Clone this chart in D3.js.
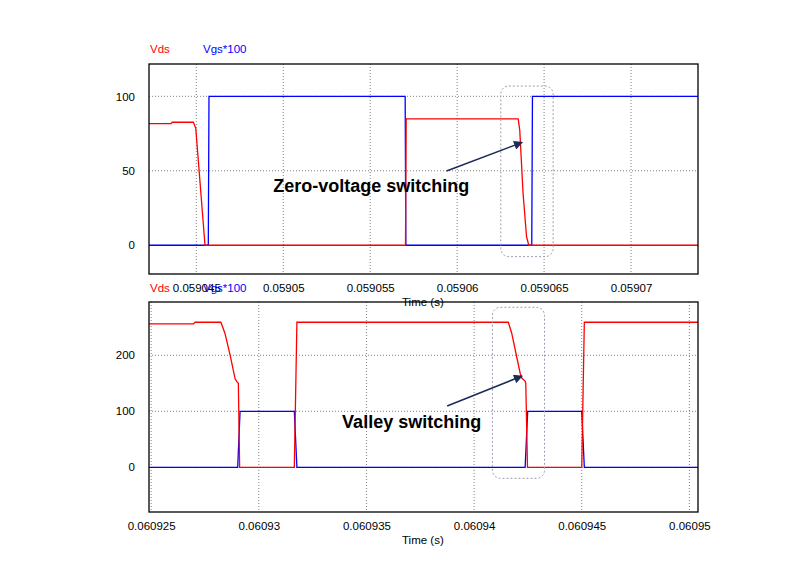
<!DOCTYPE html>
<html>
<head>
<meta charset="utf-8">
<script src="https://cdn.jsdelivr.net/npm/d3@7/dist/d3.min.js"></script>
<style>
  html, body { margin: 0; padding: 0; background: #fff; }
  svg { display: block; font-family: "Liberation Sans", Arial, sans-serif; }
</style>
</head>
<body>
<svg id="chart" width="786" height="563"></svg>
<script>
// ---------------- DATA ----------------
const seriesNames = ["Vds", "Vgs*100"];
const seriesColors = ["#ff0000", "#0000ff"];

// Top panel (Zero-voltage switching)
const topXDomain = [0.05904228, 0.05907385];
const topYDomain = [-19.3, 121.7];
const topXTicks = [0.059045, 0.05905, 0.059055, 0.05906, 0.059065, 0.05907];
const topXLabels = ["0.059045", "0.05905", "0.059055", "0.05906", "0.059065", "0.05907"];
const topYTicks = [0, 50, 100];
const topYLabels = ["0", "50", "100"];
const topVds = [
  [0.05904228, 81.6], [0.05904355, 81.6], [0.05904362, 82.6], [0.05904483, 82.6],
  [0.05904497, 78.5], [0.0590455, 0], [0.05905703, 0], [0.05905707, 84.8],
  [0.05906351, 84.8], [0.0590636, 77.3], [0.05906379, 34.9], [0.05906399, 5.8],
  [0.05906412, 0], [0.05907385, 0]
];
const topVgs = [
  [0.05904228, 0], [0.05904569, 0], [0.05904573, 100], [0.05905701, 100],
  [0.05905705, 0], [0.05906429, 0], [0.05906433, 100], [0.05907385, 100]
];

// Bottom panel (Valley switching)
const botXDomain = [0.0609249, 0.0609504];
const botYDomain = [-79.8, 295.2];
const botXTicks = [0.060925, 0.06093, 0.060935, 0.06094, 0.060945, 0.06095];
const botXLabels = ["0.060925", "0.06093", "0.060935", "0.06094", "0.060945", "0.06095"];
const botYTicks = [0, 100, 200];
const botYLabels = ["0", "100", "200"];
const botVds = [
  [0.0609249, 256], [0.06092697, 256], [0.06092704, 259], [0.06092824, 259],
  [0.06092843, 239], [0.06092867, 200], [0.0609289, 158], [0.06092898, 153],
  [0.06092905, 150], [0.06092911, 0], [0.06093165, 0], [0.06093177, 259],
  [0.06094159, 259], [0.06094175, 239], [0.06094198, 197], [0.06094214, 168],
  [0.06094222, 159], [0.06094237, 154], [0.0609424, 150], [0.06094248, 0],
  [0.060945, 0], [0.06094512, 259], [0.0609504, 259]
];
const botVgs = [
  [0.0609249, 0], [0.06092902, 0], [0.06092913, 100], [0.06093165, 100],
  [0.06093177, 0], [0.06094237, 0], [0.06094249, 100], [0.060945, 100],
  [0.06094512, 0], [0.0609504, 0]
];

// Annotations (in data coordinates)
const topNote = { text: "Zero-voltage switching", t: 0.05904943, v: 35.8,
  arrow: [[0.05905939, 49.9], [0.05906374, 69.1]],
  box: [[0.05906251, 106.9], [0.05906552, -7.65]] };
const botNote = { text: "Valley switching", t: 0.06093387, v: 70.2,
  arrow: [[0.06093875, 109.5], [0.06094223, 163]],
  box: [[0.06094085, 285.7], [0.06094327, -19.6]] };

// ---------------- DRAW ----------------
const svg = d3.select("#chart");
const defs = svg.append("defs");
defs.append("marker")
  .attr("id", "arrowhead").attr("viewBox", "0 0 10 10")
  .attr("refX", 9).attr("refY", 5)
  .attr("markerWidth", 11).attr("markerHeight", 9)
  .attr("markerUnits", "userSpaceOnUse")
  .attr("orient", "auto")
  .append("path").attr("d", "M0,0 L10,5 L0,10 Z").attr("fill", "#1c2b5a");

function panel(cfg) {
  const L = 149, R = 698, T = cfg.top, B = cfg.bottom;
  const x = d3.scaleLinear().domain(cfg.xDomain).range([L, R]);
  const y = d3.scaleLinear().domain(cfg.yDomain).range([B, T]);
  const g = svg.append("g");

  // gridlines
  g.append("g").selectAll("line").data(cfg.xTicks.filter(t => x(t) > L + 2))
    .join("line")
    .attr("x1", d => x(d)).attr("x2", d => x(d))
    .attr("y1", T).attr("y2", B)
    .attr("stroke", "#808080").attr("stroke-width", 1).attr("stroke-dasharray", "1,2");
  g.append("g").selectAll("line").data(cfg.yTicks)
    .join("line")
    .attr("x1", L).attr("x2", R)
    .attr("y1", d => y(d)).attr("y2", d => y(d))
    .attr("stroke", "#808080").attr("stroke-width", 1).attr("stroke-dasharray", "1,2");

  // x axis labels (via d3 axis)
  const xAxis = d3.axisBottom(x).tickValues(cfg.xTicks)
    .tickFormat((d, i) => cfg.xLabels[i]).tickSize(0).tickPadding(0);
  const xa = g.append("g").attr("transform", `translate(0,${cfg.xLabelY})`).call(xAxis);
  xa.select(".domain").remove();
  xa.selectAll("text").attr("font-size", 11.5).attr("fill", "#000")
    .attr("font-family", "Liberation Sans, Arial, sans-serif").attr("dy", 0);

  const yAxis = d3.axisLeft(y).tickValues(cfg.yTicks)
    .tickFormat((d, i) => cfg.yLabels[i]).tickSize(0).tickPadding(0);
  const ya = g.append("g").attr("transform", `translate(135,0)`).call(yAxis);
  ya.select(".domain").remove();
  ya.selectAll("text").attr("font-size", 11.5).attr("fill", "#000")
    .attr("font-family", "Liberation Sans, Arial, sans-serif");

  // Series lines
  const line = d3.line().x(d => x(d[0])).y(d => y(d[1]));
  g.append("path").datum(cfg.vgs).attr("d", line)
    .attr("fill", "none").attr("stroke", seriesColors[1]).attr("stroke-width", 1.3);
  g.append("path").datum(cfg.vds).attr("d", line)
    .attr("fill", "none").attr("stroke", seriesColors[0]).attr("stroke-width", 1.3);

  // frame
  g.append("rect").attr("x", L).attr("y", T).attr("width", R - L).attr("height", B - T)
    .attr("fill", "none").attr("stroke", "#000").attr("stroke-width", 1.3);

  // legend
  g.append("text").attr("x", 150).attr("y", cfg.legendY).text(seriesNames[0])
    .attr("fill", seriesColors[0]).attr("font-size", 11.5);
  g.append("text").attr("x", 203).attr("y", cfg.legendY).text(seriesNames[1])
    .attr("fill", seriesColors[1]).attr("font-size", 11.5);

  // Time label
  g.append("text").attr("x", 402).attr("y", cfg.timeY).text("Time (s)")
    .attr("fill", "#000").attr("font-size", 11.5);

  // annotation box
  const n = cfg.note;
  const bx0 = x(n.box[0][0]), by0 = y(n.box[0][1]), bx1 = x(n.box[1][0]), by1 = y(n.box[1][1]);
  g.append("rect").attr("x", bx0).attr("y", by0).attr("width", bx1 - bx0).attr("height", by1 - by0)
    .attr("rx", 8).attr("ry", 8)
    .attr("fill", "none").attr("stroke", "#9c9cb0").attr("stroke-width", 1)
    .attr("stroke-dasharray", "2,2");
  // arrow
  g.append("line")
    .attr("x1", x(n.arrow[0][0])).attr("y1", y(n.arrow[0][1]))
    .attr("x2", x(n.arrow[1][0])).attr("y2", y(n.arrow[1][1]))
    .attr("stroke", "#1c2b5a").attr("stroke-width", 1.5)
    .attr("marker-end", "url(#arrowhead)");
  // text
  g.append("text").attr("x", x(n.t)).attr("y", y(n.v)).text(n.text)
    .attr("font-size", 18).attr("font-weight", "bold").attr("fill", "#000");
}

panel({ top: 64, bottom: 274, xDomain: topXDomain, yDomain: topYDomain,
  xTicks: topXTicks, xLabels: topXLabels, yTicks: topYTicks, yLabels: topYLabels,
  vds: topVds, vgs: topVgs, xLabelY: 292, legendY: 53, timeY: 306, note: topNote });
panel({ top: 302, bottom: 512, xDomain: botXDomain, yDomain: botYDomain,
  xTicks: botXTicks, xLabels: botXLabels, yTicks: botYTicks, yLabels: botYLabels,
  vds: botVds, vgs: botVgs, xLabelY: 530, legendY: 291.5, timeY: 544, note: botNote });
</script>
</body>
</html>
